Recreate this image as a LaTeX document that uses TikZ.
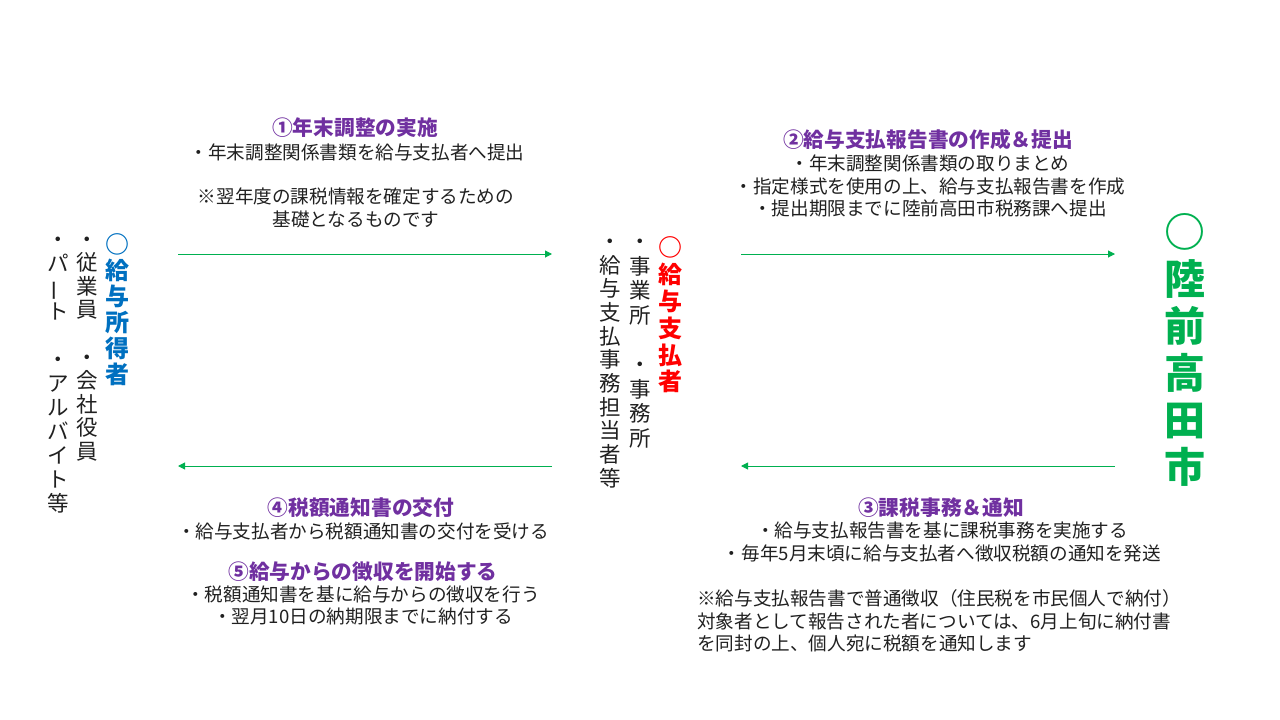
\documentclass[tikz,border=0pt]{standalone}
\usepackage{fontspec}
\setmainfont{Noto Sans CJK JP}
\usepackage{graphicx}
\usetikzlibrary{arrows.meta}
\definecolor{purp}{HTML}{7030A0}
\definecolor{grn}{HTML}{00B050}
\definecolor{blu}{HTML}{0070C0}
\definecolor{rd}{HTML}{FF0000}
\definecolor{txt}{HTML}{202020}
\newcommand{\vbar}{\rotatebox[origin=c]{90}{ー}}
\begin{document}
\begin{tikzpicture}[x=1pt,y=-1pt,
  vcol/.style={align=center, inner sep=0pt, text=txt},
  ttl/.style={inner sep=0pt, text=purp, font=\fontsize{20.7}{24}\selectfont\bfseries},
  body/.style={inner sep=0pt, text=txt, align=center, font=\fontsize{18.6}{22.8}\selectfont},
  flow/.style={draw=grn, line width=1pt, -{Triangle[length=7pt,width=7pt]}}]
\useasboundingbox (0,0) rectangle (1280,720);

% left group (vertical)
\node[vcol, text=blu, font=\fontsize{24}{26}\selectfont\bfseries] (earner) at (117,310)
  {○\\給\\与\\所\\得\\者};
\node[vcol, font=\fontsize{21.5}{23.6}\selectfont] (earner2) at (87,349)
  {・\\従\\業\\員\\\mbox{}\\・\\会\\社\\役\\員};
\node[vcol, font=\fontsize{21.5}{24}\selectfont] (earner3) at (58,375)
  {・\\パ\\\vbar\\ト\\\mbox{}\\・\\ア\\ル\\バ\\イ\\ト\\等};

% middle group
\node[vcol, text=rd, font=\fontsize{24}{26.8}\selectfont\bfseries] (payer) at (670,315)
  {○\\給\\与\\支\\払\\者};
\node[vcol, font=\fontsize{21.5}{24.6}\selectfont] (payer2) at (640,343.5)
  {・\\事\\業\\所\\\mbox{}\\・\\事\\務\\所};
\node[vcol, font=\fontsize{21.5}{23.7}\selectfont] (payer3) at (610,363.5)
  {・\\給\\与\\支\\払\\事\\務\\担\\当\\者\\等};

% right group
\node[vcol, text=grn, font=\fontsize{41}{47}\selectfont\bfseries] (city) at (1185,349.5)
  {○\\陸\\前\\高\\田\\市};

% arrows
\coordinate (a1s) at (178,254); \coordinate (a1e) at (552,254);
\coordinate (a2s) at (741,254); \coordinate (a2e) at (1115,254);
\coordinate (a3s) at (1115,466); \coordinate (a3e) at (741,466);
\coordinate (a4s) at (552,466); \coordinate (a4e) at (178,466);
\draw[flow] (a1s) -- (a1e);
\draw[flow] (a2s) -- (a2e);
\draw[flow] (a3s) -- (a3e);
\draw[flow] (a4s) -- (a4e);

% block 1
\node[ttl] (t1) at (355,128) {①年末調整の実施};
\node[body] (b1) at (357,152) {・年末調整関係書類を給与支払者へ提出};
\node[body] (n1) at (356,208) {※翌年度の課税情報を確定するための\\基礎となるものです};

% block 2
\node[ttl] (t2) at (928,140) {②給与支払報告書の作成＆提出};
\node[body] (b2) at (930,186) {・年末調整関係書類の取りまとめ\\・指定様式を使用の上、給与支払報告書を作成\\・提出期限までに陸前高田市税務課へ提出};

% block 3
\node[ttl] (t3) at (941,508) {③課税事務＆通知};
\node[body] (b3) at (942,542) {・給与支払報告書を基に課税事務を実施する\\・毎年5月末頃に給与支払者へ徴収税額の通知を発送};
\node[body, align=left, anchor=west] (n3) at (697,621) {※給与支払報告書で普通徴収（住民税を市民個人で納付）\\対象者として報告された者については、6月上旬に納付書\\を同封の上、個人宛に税額を通知します};

% block 4/5
\node[ttl] (t4) at (361,508) {④税額通知書の交付};
\node[body] (b4) at (363,531) {・給与支払者から税額通知書の交付を受ける};
\node[ttl] (t5) at (363,572) {⑤給与からの徴収を開始する};
\node[body] (b5) at (363,605.5) {・税額通知書を基に給与からの徴収を行う\\・翌月10日の納期限までに納付する};
\end{tikzpicture}
\end{document}
